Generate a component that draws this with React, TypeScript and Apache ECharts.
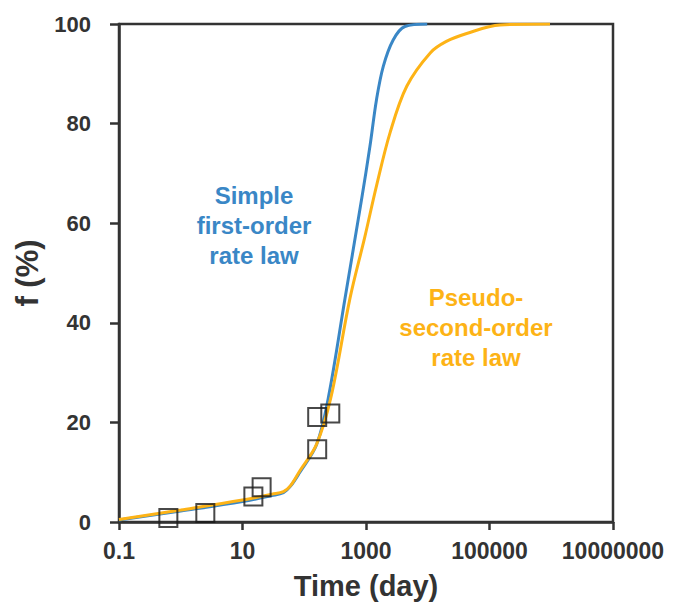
import React, { useEffect, useRef } from "react";
import * as echarts from "echarts";

// Time (day) and f (%)
const firstOrderTime = [0.1, 1, 10, 30, 46, 60, 85, 158, 245, 457, 851, 1160, 1479, 1905, 2754, 4266, 9800];
const firstOrderF = [0.4, 2.2, 4.1, 5.3, 5.9, 7.2, 10.0, 15.5, 24.9, 44.9, 64.9, 75.5, 84.8, 91.5, 96.8, 99.5, 100];

const secondOrderTime = [0.1, 1, 10, 30, 46, 60, 85, 158, 269, 550, 955, 1479, 2455, 4571, 10965, 20000, 42700, 148000, 955000];
const secondOrderF = [0.5, 2.4, 4.4, 5.6, 6.1, 7.3, 10.3, 15.6, 24.9, 44.9, 57.2, 67.5, 78.2, 87.5, 94.2, 96.5, 98.1, 99.8, 100];

const obsTime = [0.63, 2.5, 15, 20.4, 162, 162, 264];
const obsF = [0.8, 1.8, 5.1, 7.0, 14.6, 21.1, 21.8];

const xTickLabels = ["0.1", "10", "1000", "100000", "10000000"];
const yTicks = [0, 20, 40, 60, 80, 100];

const BLUE = "#3A87C6";
const ORANGE = "#FDB316";
const INK = "#333333";
const FONT = '"Liberation Sans", Arial, sans-serif';

export default function App() {
  const ref = useRef<HTMLDivElement>(null);
  useEffect(() => {
    if (!ref.current) return;
    const chart = echarts.init(ref.current, null, { renderer: "svg" });
    const zip = (xs: number[], ys: number[]) => xs.map((x, i) => [x, ys[i]]);
    chart.setOption({
      animation: false,
      backgroundColor: "#ffffff",
      textStyle: { fontFamily: FONT },
      grid: {
        left: 119,
        right: 68,
        top: 24,
        bottom: 80,
        show: true,
        borderColor: INK,
        borderWidth: 2.5,
        backgroundColor: "transparent",
      },
      xAxis: {
        type: "log",
        logBase: 10,
        min: 0.1,
        max: 10000000,
        interval: 2,
        splitNumber: 4,
        name: "Time (day)",
        nameLocation: "middle",
        nameGap: 49,
        nameTextStyle: { color: INK, fontSize: 29, fontWeight: "bold", fontFamily: FONT },
        axisLine: { show: true, onZero: false, lineStyle: { color: INK, width: 2.5 } },
        axisTick: { show: true, inside: false, length: 8, lineStyle: { color: INK, width: 2.5 } },
        minorTick: { show: false },
        splitLine: { show: false },
        axisLabel: {
          color: INK,
          fontSize: 23,
          fontWeight: "bold",
          fontFamily: FONT,
          margin: 17,
          formatter: (v: number) => {
            const e = Math.round(Math.log10(v));
            const idx = (e + 1) / 2;
            return Number.isInteger(idx) && xTickLabels[idx] !== undefined ? xTickLabels[idx] : "";
          },
        },
      },
      yAxis: {
        type: "value",
        min: yTicks[0],
        max: yTicks[yTicks.length - 1],
        interval: 20,
        name: "f (%)",
        nameLocation: "middle",
        nameGap: 74,
        nameRotate: 90,
        nameTextStyle: { color: INK, fontSize: 31, fontWeight: "bold", fontFamily: FONT },
        axisLine: { show: true, lineStyle: { color: INK, width: 2.5 } },
        axisTick: { show: true, inside: false, length: 9, lineStyle: { color: INK, width: 2.5 } },
        splitLine: { show: false },
        axisLabel: { color: INK, fontSize: 22, fontWeight: "bold", fontFamily: FONT, margin: 28 },
      },
      series: [
        {
          name: "Simple first-order rate law",
          type: "line",
          data: zip(firstOrderTime, firstOrderF),
          showSymbol: false,
          smooth: 0.35,
          lineStyle: { color: BLUE, width: 3 },
          itemStyle: { color: BLUE },
          z: 2,
        },
        {
          name: "Pseudo-second-order rate law",
          type: "line",
          data: zip(secondOrderTime, secondOrderF),
          showSymbol: false,
          smooth: 0.35,
          lineStyle: { color: ORANGE, width: 3 },
          itemStyle: { color: ORANGE },
          z: 3,
        },
        {
          name: "Observed",
          type: "scatter",
          data: zip(obsTime, obsF),
          symbol: "rect",
          symbolSize: 18,
          itemStyle: { color: "rgba(255,255,255,0)", borderColor: "#1a1a1a", borderWidth: 2 },
          z: 4,
        },
      ],
      graphic: [
        {
          type: "text",
          x: 254,
          y: 225,
          style: {
            text: "Simple\nfirst-order\nrate law",
            fill: BLUE,
            font: `bold 24px ${FONT}`,
            lineHeight: 30,
            align: "center",
            verticalAlign: "middle",
            textAlign: "center",
            textVerticalAlign: "middle",
          },
        },
        {
          type: "text",
          x: 476,
          y: 327,
          style: {
            text: "Pseudo-\nsecond-order\nrate law",
            fill: ORANGE,
            font: `bold 24px ${FONT}`,
            lineHeight: 30,
            align: "center",
            verticalAlign: "middle",
            textAlign: "center",
            textVerticalAlign: "middle",
          },
        },
      ],
    });
    return () => chart.dispose();
  }, []);
  return (
    <div
      ref={ref}
      style={{ position: "absolute", left: 0, top: 0, width: 681, height: 605 }}
    />
  );
}
